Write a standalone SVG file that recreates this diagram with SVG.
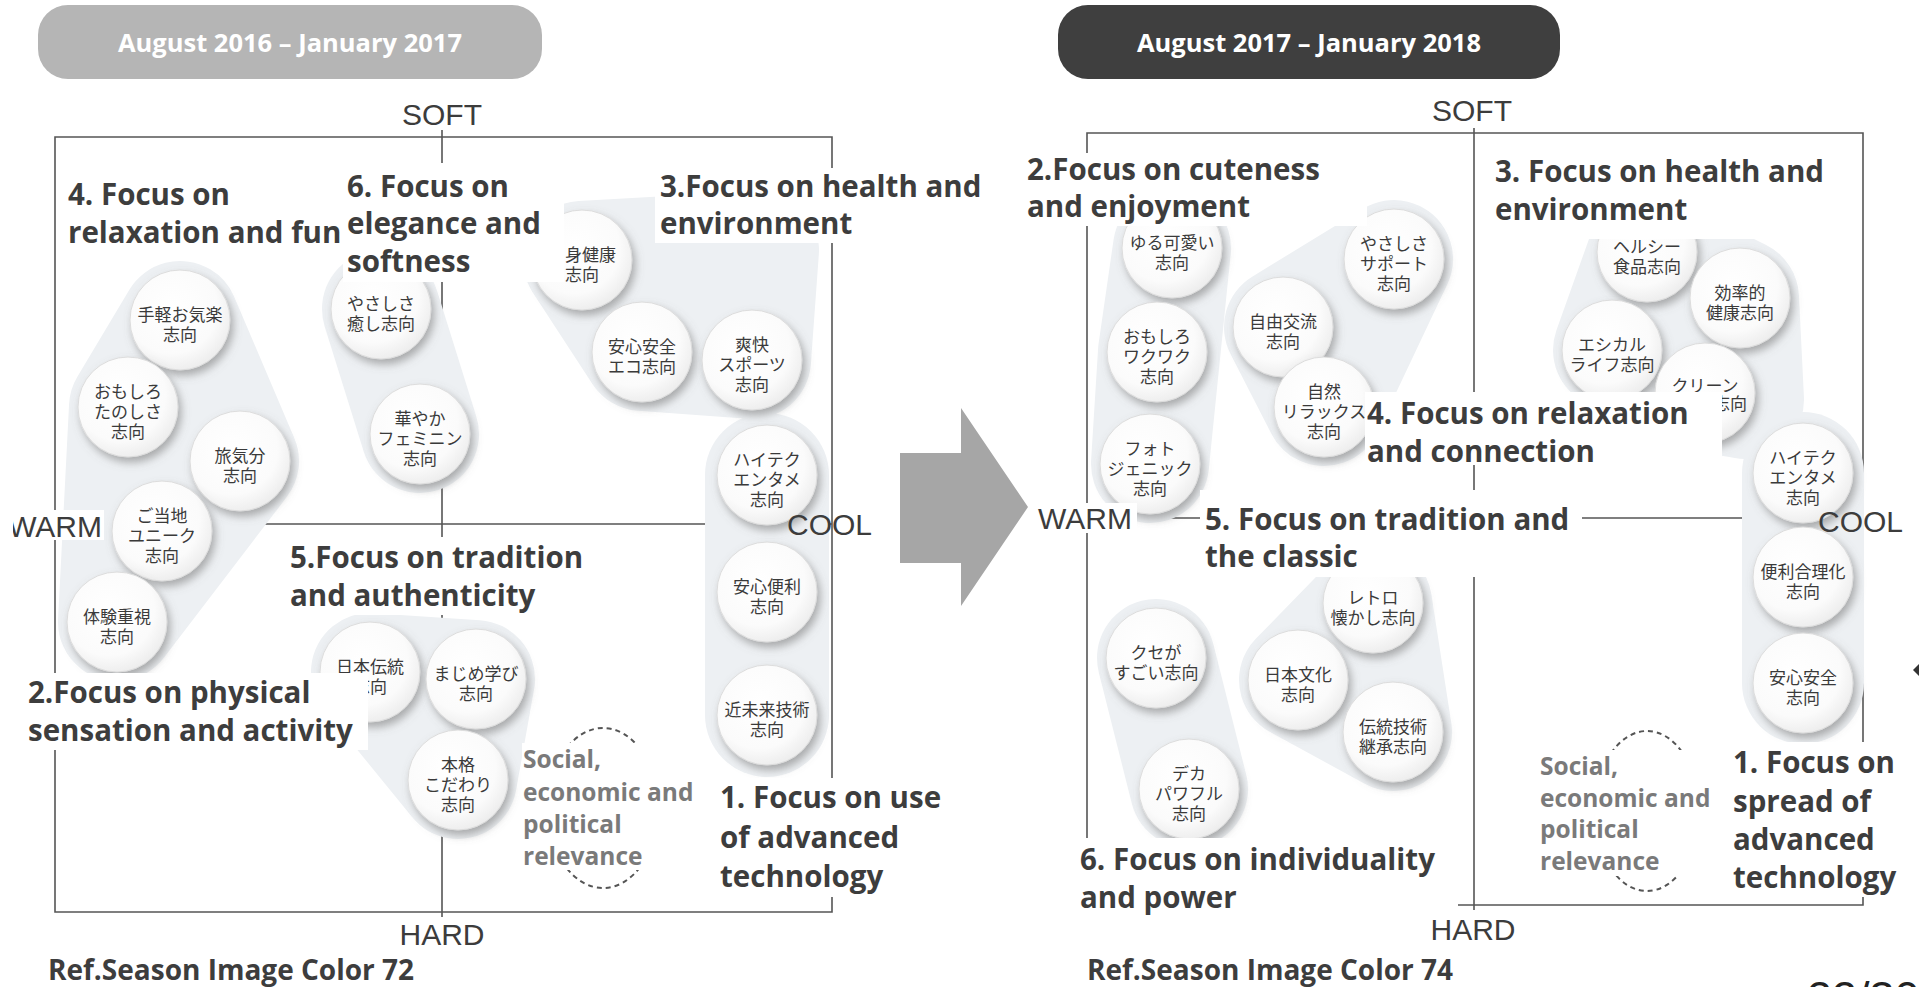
<svg xmlns="http://www.w3.org/2000/svg" width="1919" height="987" viewBox="0 0 1919 987">
<defs>
<style>
.ln{stroke:#555;stroke-width:1.6;fill:none}
.blob{fill:#edf0f3;stroke:#edf0f3;stroke-linejoin:round;stroke-linecap:round}
.cir{fill:url(#cg);stroke:#dcdcdc;stroke-width:1;filter:url(#sh)}
.jp{font-family:"Noto Sans CJK JP","Noto Sans",sans-serif;font-size:17px;fill:#3a3a3a;text-anchor:middle}
.lbl{font-family:"Open Sans","Liberation Sans",sans-serif;font-weight:700;font-size:29.5px;fill:#3d3d3d}
.ref{font-family:"Open Sans","Liberation Sans",sans-serif;font-weight:700;font-size:28px;fill:#3d3d3d}
.soc{font-family:"Open Sans","Liberation Sans",sans-serif;font-weight:700;font-size:24.5px;fill:#7a7a7a}
.ax{font-family:"Liberation Sans",Arial,sans-serif;font-size:30px;fill:#3c3c3c}
.hdr{font-family:"Open Sans","Liberation Sans",sans-serif;font-weight:700;font-size:25.5px;fill:#fff;text-anchor:middle}
.pg{font-family:"Liberation Sans",Arial,sans-serif;font-size:45px;fill:#222}
.wb{fill:#fff}
.dash{fill:none;stroke:#555;stroke-width:2;stroke-dasharray:5 4}
</style>
<radialGradient id="cg" cx="0.42" cy="0.38" r="0.65">
<stop offset="0" stop-color="#ffffff"/>
<stop offset="0.7" stop-color="#fbfbfb"/>
<stop offset="1" stop-color="#ececec"/>
</radialGradient>
<filter id="sh" x="-30%" y="-30%" width="170%" height="170%">
<feDropShadow dx="3" dy="5" stdDeviation="4" flood-color="#6f6f6f" flood-opacity="0.55"/>
</filter>
</defs>
<rect width="1919" height="987" fill="#fff"/>

<!-- headers -->
<g id="header-left"><rect x="38" y="5" width="504" height="74" rx="30" fill="#b5b5b5"/><text class="hdr" x="290" y="52">August 2016 – January 2017</text></g>
<g id="header-right"><rect x="1058" y="5" width="502" height="74" rx="30" fill="#3f3f3f"/><text class="hdr" x="1309" y="52">August 2017 – January 2018</text></g>

<!-- connectors / axes -->
<g id="connectors">
<path class="ln" d="M55,137 H832 V912 H55 Z"/>
<path class="ln" d="M442,130 V917"/>
<path class="ln" d="M55,524 H832"/>
<path class="ln" d="M1087,133 H1863 V905 H1087 Z"/>
<path class="ln" d="M1474,128 V910"/>
<path class="ln" d="M1087,518 H1863"/>
<polygon id="arrow" points="900,453 961,453 961,408 1028,507 961,606 961,563 900,563" fill="#a6a6a6"/>
<polygon points="1919,664 1913,670 1919,676" fill="#333"/>
</g>

<!-- blobs -->
<g id="blobs">
<polygon class="blob" stroke-width="118" points="180,320 240,461 117,622 128,407"/>
<path class="blob" stroke-width="118" d="M381,309 L420,434"/>
<polygon class="blob" stroke-width="118" points="582,260 760,250 752,360 642,352"/>
<path class="blob" stroke-width="124" d="M767,475 L767,715"/>
<polygon class="blob" stroke-width="118" points="370,672 476,679 458,780"/>
<polygon class="blob" stroke-width="118" points="1172,248 1157,352 1150,464"/>
<polygon class="blob" stroke-width="118" points="1283,327 1394,259 1324,407"/>
<polygon class="blob" stroke-width="118" points="1647,252 1740,298 1745,400 1705,393 1612,350"/>
<path class="blob" stroke-width="122" d="M1803,473 L1803,683"/>
<polygon class="blob" stroke-width="118" points="1373,603 1393,732 1298,680"/>
<path class="blob" stroke-width="118" d="M1156,658 L1189,789"/>
</g>

<!-- left panel nodes -->
<g id="n-tegaru"><circle class="cir" cx="180" cy="320" r="50"/><text class="jp"><tspan x="180" y="321">手軽お気楽</tspan><tspan x="180" y="341">志向</tspan></text></g>
<g id="n-omoshiro-tanoshisa"><circle class="cir" cx="128" cy="407" r="50"/><text class="jp"><tspan x="128" y="398">おもしろ</tspan><tspan x="128" y="418">たのしさ</tspan><tspan x="128" y="438">志向</tspan></text></g>
<g id="n-tabi"><circle class="cir" cx="240" cy="461" r="50"/><text class="jp"><tspan x="240" y="462">旅気分</tspan><tspan x="240" y="482">志向</tspan></text></g>
<g id="n-gotouchi"><circle class="cir" cx="162" cy="531" r="50"/><text class="jp"><tspan x="162" y="522">ご当地</tspan><tspan x="162" y="542">ユニーク</tspan><tspan x="162" y="562">志向</tspan></text></g>
<g id="n-taiken"><circle class="cir" cx="117" cy="622" r="50"/><text class="jp"><tspan x="117" y="623">体験重視</tspan><tspan x="117" y="643">志向</tspan></text></g>
<g id="n-yasashisa-iyashi"><circle class="cir" cx="381" cy="309" r="50"/><text class="jp"><tspan x="381" y="310">やさしさ</tspan><tspan x="381" y="330">癒し志向</tspan></text></g>
<g id="n-hanayaka"><circle class="cir" cx="420" cy="434" r="50"/><text class="jp"><tspan x="420" y="425">華やか</tspan><tspan x="420" y="445">フェミニン</tspan><tspan x="420" y="465">志向</tspan></text></g>
<g id="n-shinken"><circle class="cir" cx="582" cy="260" r="50"/><text class="jp"><tspan x="565" y="261" text-anchor="start">身健康</tspan><tspan x="582" y="281">志向</tspan></text></g>
<g id="n-anshin-eco"><circle class="cir" cx="642" cy="352" r="50"/><text class="jp"><tspan x="642" y="353">安心安全</tspan><tspan x="642" y="373">エコ志向</tspan></text></g>
<g id="n-soukai"><circle class="cir" cx="752" cy="360" r="50"/><text class="jp"><tspan x="752" y="351">爽快</tspan><tspan x="752" y="371">スポーツ</tspan><tspan x="752" y="391">志向</tspan></text></g>
<g id="n-hitech-l"><circle class="cir" cx="767" cy="475" r="50"/><text class="jp"><tspan x="767" y="466">ハイテク</tspan><tspan x="767" y="486">エンタメ</tspan><tspan x="767" y="506">志向</tspan></text></g>
<g id="n-anshin-benri"><circle class="cir" cx="767" cy="592" r="50"/><text class="jp"><tspan x="767" y="593">安心便利</tspan><tspan x="767" y="613">志向</tspan></text></g>
<g id="n-kinmirai"><circle class="cir" cx="767" cy="715" r="50"/><text class="jp"><tspan x="767" y="716">近未来技術</tspan><tspan x="767" y="736">志向</tspan></text></g>
<g id="n-nihon-dentou"><circle class="cir" cx="370" cy="672" r="50"/><text class="jp"><tspan x="370" y="673">日本伝統</tspan><tspan x="370" y="693">志向</tspan></text></g>
<g id="n-majime"><circle class="cir" cx="476" cy="679" r="50"/><text class="jp"><tspan x="476" y="680">まじめ学び</tspan><tspan x="476" y="700">志向</tspan></text></g>
<g id="n-honkaku"><circle class="cir" cx="458" cy="780" r="50"/><text class="jp"><tspan x="458" y="771">本格</tspan><tspan x="458" y="791">こだわり</tspan><tspan x="458" y="811">志向</tspan></text></g>

<!-- right panel nodes -->
<g id="n-yurukawaii"><circle class="cir" cx="1172" cy="248" r="50"/><text class="jp"><tspan x="1172" y="249">ゆる可愛い</tspan><tspan x="1172" y="269">志向</tspan></text></g>
<g id="n-omoshiro-wakuwaku"><circle class="cir" cx="1157" cy="352" r="50"/><text class="jp"><tspan x="1157" y="343">おもしろ</tspan><tspan x="1157" y="363">ワクワク</tspan><tspan x="1157" y="383">志向</tspan></text></g>
<g id="n-photo"><circle class="cir" cx="1150" cy="464" r="50"/><text class="jp"><tspan x="1150" y="455">フォト</tspan><tspan x="1150" y="475">ジェニック</tspan><tspan x="1150" y="495">志向</tspan></text></g>
<g id="n-jiyuu"><circle class="cir" cx="1283" cy="327" r="50"/><text class="jp"><tspan x="1283" y="328">自由交流</tspan><tspan x="1283" y="348">志向</tspan></text></g>
<g id="n-yasashisa-support"><circle class="cir" cx="1394" cy="259" r="50"/><text class="jp"><tspan x="1394" y="250">やさしさ</tspan><tspan x="1394" y="270">サポート</tspan><tspan x="1394" y="290">志向</tspan></text></g>
<g id="n-shizen"><circle class="cir" cx="1324" cy="407" r="50"/><text class="jp"><tspan x="1324" y="398">自然</tspan><tspan x="1324" y="418">リラックス</tspan><tspan x="1324" y="438">志向</tspan></text></g>
<g id="n-healthy"><circle class="cir" cx="1647" cy="252" r="50"/><text class="jp"><tspan x="1647" y="253">ヘルシー</tspan><tspan x="1647" y="273">食品志向</tspan></text></g>
<g id="n-kouritsu"><circle class="cir" cx="1740" cy="298" r="50"/><text class="jp"><tspan x="1740" y="299">効率的</tspan><tspan x="1740" y="319">健康志向</tspan></text></g>
<g id="n-ethical"><circle class="cir" cx="1612" cy="350" r="50"/><text class="jp"><tspan x="1612" y="351">エシカル</tspan><tspan x="1612" y="371">ライフ志向</tspan></text></g>
<g id="n-clean"><circle class="cir" cx="1705" cy="393" r="50"/><text class="jp"><tspan x="1705" y="392">クリーン</tspan><tspan x="1747" y="410" text-anchor="end">志向</tspan></text></g>
<g id="n-hitech-r"><circle class="cir" cx="1803" cy="473" r="50"/><text class="jp"><tspan x="1803" y="464">ハイテク</tspan><tspan x="1803" y="484">エンタメ</tspan><tspan x="1803" y="504">志向</tspan></text></g>
<g id="n-benri"><circle class="cir" cx="1803" cy="577" r="50"/><text class="jp"><tspan x="1803" y="578">便利合理化</tspan><tspan x="1803" y="598">志向</tspan></text></g>
<g id="n-anshin-r"><circle class="cir" cx="1803" cy="683" r="50"/><text class="jp"><tspan x="1803" y="684">安心安全</tspan><tspan x="1803" y="704">志向</tspan></text></g>
<g id="n-retro"><circle class="cir" cx="1373" cy="603" r="50"/><text class="jp"><tspan x="1373" y="604">レトロ</tspan><tspan x="1373" y="624">懐かし志向</tspan></text></g>
<g id="n-nihon-bunka"><circle class="cir" cx="1298" cy="680" r="50"/><text class="jp"><tspan x="1298" y="681">日本文化</tspan><tspan x="1298" y="701">志向</tspan></text></g>
<g id="n-dentou-gijutsu"><circle class="cir" cx="1393" cy="732" r="50"/><text class="jp"><tspan x="1393" y="733">伝統技術</tspan><tspan x="1393" y="753">継承志向</tspan></text></g>
<g id="n-kuse"><circle class="cir" cx="1156" cy="658" r="50"/><text class="jp"><tspan x="1156" y="659">クセが</tspan><tspan x="1156" y="679">すごい志向</tspan></text></g>
<g id="n-deka"><circle class="cir" cx="1189" cy="789" r="50"/><text class="jp"><tspan x="1189" y="780">デカ</tspan><tspan x="1189" y="800">パワフル</tspan><tspan x="1189" y="820">志向</tspan></text></g>

<!-- dashed ellipses -->
<ellipse class="dash" cx="603" cy="808" rx="55" ry="80"/>
<ellipse class="dash" cx="1647" cy="811" rx="52" ry="80"/>

<!-- left panel labels -->
<g id="lab-l4"><rect class="wb" x="62" y="168" width="281" height="84"/><text class="lbl"><tspan x="68" y="205">4. Focus on</tspan><tspan x="68" y="243">relaxation and fun</tspan></text></g>
<g id="lab-l6"><rect class="wb" x="343" y="163" width="221" height="119"/><text class="lbl"><tspan x="347" y="197">6. Focus on</tspan><tspan x="347" y="234">elegance and</tspan><tspan x="347" y="272">softness</tspan></text></g>
<g id="lab-l3"><rect class="wb" x="655" y="168" width="335" height="75"/><text class="lbl"><tspan x="660" y="197">3.Focus on health and</tspan><tspan x="660" y="234">environment</tspan></text></g>
<g id="lab-l5"><rect class="wb" x="285" y="537" width="315" height="78"/><text class="lbl"><tspan x="290" y="568">5.Focus on tradition</tspan><tspan x="290" y="606">and authenticity</tspan></text></g>
<g id="lab-l2"><rect class="wb" x="25" y="673" width="343" height="77"/><text class="lbl"><tspan x="28" y="703">2.Focus on physical</tspan><tspan x="28" y="741">sensation and activity</tspan></text></g>
<g id="lab-lsoc"><rect class="wb" x="522" y="743" width="190" height="127"/><text class="soc"><tspan x="523" y="768">Social,</tspan><tspan x="523" y="801">economic and</tspan><tspan x="523" y="833">political</tspan><tspan x="523" y="865">relevance</tspan></text></g>
<g id="lab-l1"><rect class="wb" x="717" y="778" width="240" height="119"/><text class="lbl"><tspan x="720" y="808">1. Focus on use</tspan><tspan x="720" y="848">of advanced</tspan><tspan x="720" y="887">technology</tspan></text></g>

<!-- right panel labels -->
<g id="lab-r2"><rect class="wb" x="1025" y="153" width="342" height="73"/><text class="lbl"><tspan x="1027" y="180">2.Focus on cuteness</tspan><tspan x="1027" y="217">and enjoyment</tspan></text></g>
<g id="lab-r3"><rect class="wb" x="1490" y="155" width="357" height="84"/><text class="lbl"><tspan x="1495" y="182">3. Focus on health and</tspan><tspan x="1495" y="220">environment</tspan></text></g>
<g id="lab-r4"><rect class="wb" x="1365" y="392" width="357" height="73"/><text class="lbl"><tspan x="1367" y="424">4. Focus on relaxation</tspan><tspan x="1367" y="462">and connection</tspan></text></g>
<g id="lab-r5"><rect class="wb" x="1200" y="490" width="382" height="87"/><text class="lbl"><tspan x="1205" y="530">5. Focus on tradition and</tspan><tspan x="1205" y="567">the classic</tspan></text></g>
<g id="lab-r6"><rect class="wb" x="1078" y="838" width="380" height="112"/><text class="lbl"><tspan x="1080" y="870">6. Focus on individuality</tspan><tspan x="1080" y="908">and power</tspan></text></g>
<g id="lab-rsoc"><rect class="wb" x="1538" y="750" width="182" height="126"/><text class="soc"><tspan x="1540" y="775">Social,</tspan><tspan x="1540" y="807">economic and</tspan><tspan x="1540" y="838">political</tspan><tspan x="1540" y="870">relevance</tspan></text></g>
<g id="lab-r1"><rect class="wb" x="1730" y="742" width="180" height="155"/><text class="lbl"><tspan x="1733" y="773">1. Focus on</tspan><tspan x="1733" y="812">spread of</tspan><tspan x="1733" y="850">advanced</tspan><tspan x="1733" y="888">technology</tspan></text></g>

<!-- axis labels -->
<g id="axis-labels">
<rect class="wb" x="0" y="510" width="104" height="30"/>
<text class="ax" x="102" y="537" text-anchor="end">WARM</text>
<rect class="wb" x="0" y="505" width="13" height="40"/>
<text class="ax" x="442" y="125" text-anchor="middle">SOFT</text>
<text class="ax" x="787" y="535">COOL</text>
<text class="ax" x="442" y="945" text-anchor="middle">HARD</text>
<rect class="wb" x="1036" y="503" width="101" height="30"/>
<text class="ax" x="1038" y="529">WARM</text>
<text class="ax" x="1472" y="121" text-anchor="middle">SOFT</text>
<text class="ax" x="1818" y="532">COOL</text>
<text class="ax" x="1473" y="940" text-anchor="middle">HARD</text>
</g>

<text class="ref" x="48" y="980">Ref.Season Image Color 72</text>
<text class="ref" x="1087" y="980">Ref.Season Image Color 74</text>
<text class="pg" x="1807" y="1013">22/30</text>
</svg>
